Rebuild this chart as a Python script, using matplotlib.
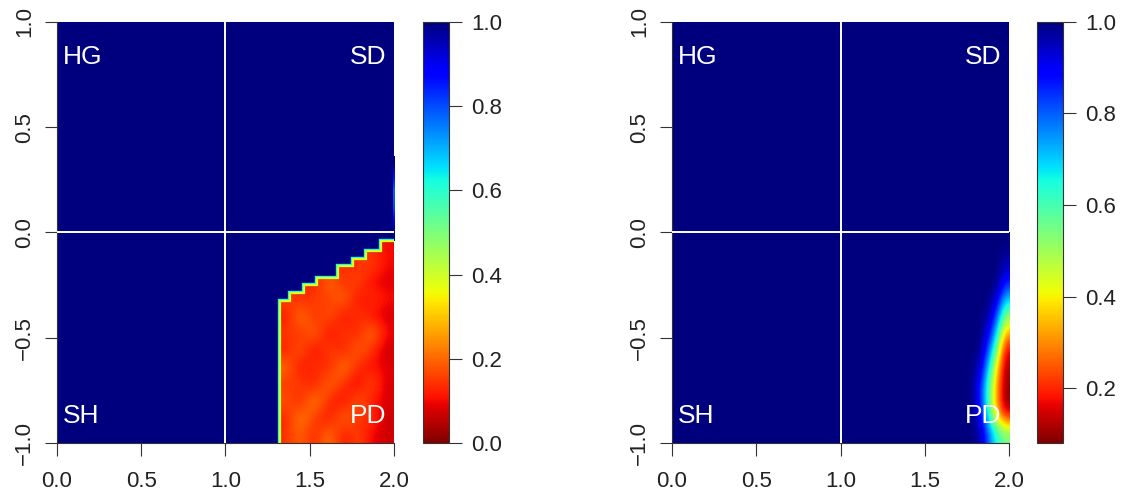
import matplotlib.pyplot as plt
from matplotlib.patches import Polygon
from matplotlib.colors import Normalize

plt.rcParams['font.family'] = ['Liberation Sans', 'DejaVu Sans']

# axes ticks
x_ticks = [0.0, 0.5, 1.0, 1.5, 2.0]
y_ticks = [-1.0, -0.5, 0.0, 0.5, 1.0]
region_labels = ['HG', 'SD', 'SH', 'PD']

# left panel: staircase border of the PD region (column edges and tops)
left_step_edges = [1.32, 1.38, 1.46, 1.54, 1.66, 1.75, 1.83, 1.92, 2.0]
left_step_tops = [-0.32, -0.285, -0.245, -0.21, -0.155, -0.12, -0.085, -0.035]
# values inside the PD region, rows from y=-1 upwards
left_pd_values = [
    [0.14, 0.20, 0.12, 0.23, 0.10, 0.17, 0.09, 0.07],
    [0.12, 0.24, 0.15, 0.10, 0.22, 0.13, 0.15, 0.06],
    [0.19, 0.11, 0.25, 0.13, 0.09, 0.20, 0.11, 0.08],
    [0.14, 0.17, 0.10, 0.22, 0.14, 0.08, 0.19, 0.07],
    [0.22, 0.09, 0.16, 0.11, 0.24, 0.13, 0.10, 0.09],
    [0.11, 0.20, 0.08, 0.18, 0.10, 0.21, 0.14, 0.06],
    [0.16, 0.13, 0.22, 0.08, 0.17, 0.11, 0.23, 0.10],
    [0.10, 0.24, 0.12, 0.20, 0.09, 0.16, 0.10, 0.07],
    [0.18, 0.11, 0.17, 0.14, 0.22, 0.09, 0.15, 0.11],
    [0.13, 0.16, 0.10, 0.23, 0.12, 0.18, 0.09, 0.08],
    [0.17, 0.12, 0.19, 0.11, 0.15, 0.13, 0.17, 0.10],
    [0.15, 0.18, 0.14, 0.16, 0.11, 0.17, 0.12, 0.10],
]
# thin light strip on the right edge above y=0
left_strip_values = [[1.0], [0.9], [0.8], [0.78], [0.86], [1.0]]

# right panel: x from 1.6 to 2.0 (step 0.05), y from -1.0 to 0.0 (step 0.1)
right_values = [
    [1.0, 1.0, 1.0, 1.0, 0.97, 0.80, 0.64, 0.55],
    [1.0, 1.0, 1.0, 1.0, 0.90, 0.60, 0.30, 0.10],
    [1.0, 1.0, 1.0, 1.0, 0.85, 0.58, 0.30, 0.08],
    [1.0, 1.0, 1.0, 1.0, 0.94, 0.68, 0.35, 0.10],
    [1.0, 1.0, 1.0, 1.0, 1.0, 0.82, 0.55, 0.15],
    [1.0, 1.0, 1.0, 1.0, 1.0, 0.94, 0.72, 0.40],
    [1.0, 1.0, 1.0, 1.0, 1.0, 1.0, 0.88, 0.62],
    [1.0, 1.0, 1.0, 1.0, 1.0, 1.0, 1.0, 0.85],
    [1.0, 1.0, 1.0, 1.0, 1.0, 1.0, 1.0, 0.96],
    [1.0, 1.0, 1.0, 1.0, 1.0, 1.0, 1.0, 1.0],
]

cmap = plt.get_cmap('jet_r')
text_col = '#222222'

fig = plt.figure(figsize=(11.24, 4.97), dpi=100)
ax1 = fig.add_axes([0.0507, 0.1087, 0.2998, 0.8471])
cax1 = fig.add_axes([0.3763, 0.1087, 0.0231, 0.8471])
ax2 = fig.add_axes([0.5979, 0.1087, 0.2998, 0.8471])
cax2 = fig.add_axes([0.9226, 0.1087, 0.0231, 0.8471])


def setup_axes(ax, norm):
    bg = ax.imshow([[1.0]], extent=[0, 2, -1, 1], cmap=cmap, norm=norm,
                   aspect='auto', zorder=0)
    ax.set_xlim(0, 2)
    ax.set_ylim(-1, 1)
    ax.axvline(1.0, color='white', lw=1.4, zorder=3)
    ax.axhline(0.0, color='white', lw=1.4, zorder=3)
    for s in ['top', 'right']:
        ax.spines[s].set_visible(False)
    for s in ['left', 'bottom']:
        ax.spines[s].set_color('#333333')
        ax.spines[s].set_linewidth(0.8)
    ax.set_xticks(x_ticks)
    ax.set_xticklabels([f"{v:.1f}" for v in x_ticks])
    ax.set_yticks(y_ticks)
    ax.set_yticklabels([f"{v:.1f}".replace('-', '\u2212') for v in y_ticks],
                       rotation=90, va='center')
    ax.tick_params(axis='both', length=9, width=0.8, color='#333333',
                   labelsize=16, labelcolor=text_col)
    ax.tick_params(axis='x', pad=11)
    ax.tick_params(axis='y', pad=7)
    kw = dict(color='white', fontsize=19, va='baseline', zorder=4)
    ax.text(0.035, 0.80, region_labels[0], ha='left', **kw)
    ax.text(1.953, 0.80, region_labels[1], ha='right', **kw)
    ax.text(0.035, -0.905, region_labels[2], ha='left', **kw)
    ax.text(1.953, -0.905, region_labels[3], ha='right', **kw)
    return bg


def setup_cbar(fig, im, cax, ticks):
    cb = fig.colorbar(im, cax=cax)
    cb.set_ticks(ticks)
    cb.set_ticklabels([f"{t:.1f}" for t in ticks])
    cb.ax.tick_params(length=9, width=0.8, color='#333333', pad=7,
                      labelsize=16, labelcolor=text_col)
    cb.outline.set_linewidth(0.8)
    cb.outline.set_edgecolor('#333333')


# ---- left panel ----
norm1 = Normalize(0.0, 1.0)
bg1 = setup_axes(ax1, norm1)

pts = [(left_step_edges[0], -1.0)]
for i, top in enumerate(left_step_tops):
    pts.append((left_step_edges[i], top))
    pts.append((left_step_edges[i + 1], top))
pts.append((2.0, -1.0))
clip = Polygon(pts, closed=True, transform=ax1.transData)

pd_img = ax1.imshow(left_pd_values, origin='lower', cmap=cmap, norm=norm1,
                    extent=[left_step_edges[0], 2.0, -1.0, max(left_step_tops)],
                    aspect='auto', interpolation='bicubic', zorder=1)
pd_img.set_clip_path(clip)

edge_x = [p[0] for p in pts[:-1]]
edge_y = [p[1] for p in pts[:-1]]
ax1.plot(edge_x, edge_y, color=cmap(norm1(0.62)), lw=2.4, zorder=2,
         solid_joinstyle='miter')
inner, = ax1.plot(edge_x, edge_y, color=cmap(norm1(0.38)), lw=2.2, zorder=2,
                  solid_joinstyle='miter')
inner.set_clip_path(Polygon(pts, closed=True, transform=ax1.transData))

ax1.imshow(left_strip_values, origin='lower', cmap=cmap, norm=norm1,
           extent=[1.993, 2.0, -0.04, 0.36], aspect='auto',
           interpolation='bilinear', zorder=1)
ax1.set_xlim(0, 2)
ax1.set_ylim(-1, 1)
setup_cbar(fig, bg1, cax1, [0.0, 0.2, 0.4, 0.6, 0.8, 1.0])

# ---- right panel ----
norm2 = Normalize(0.08, 1.0)
bg2 = setup_axes(ax2, norm2)
ax2.imshow(right_values, origin='lower', cmap=cmap, norm=norm2,
           extent=[1.6, 2.0, -1.0, 0.0], aspect='auto',
           interpolation='bicubic', zorder=1)
ax2.set_xlim(0, 2)
ax2.set_ylim(-1, 1)
setup_cbar(fig, bg2, cax2, [0.2, 0.4, 0.6, 0.8, 1.0])

fig.savefig('out.png', dpi=100)
